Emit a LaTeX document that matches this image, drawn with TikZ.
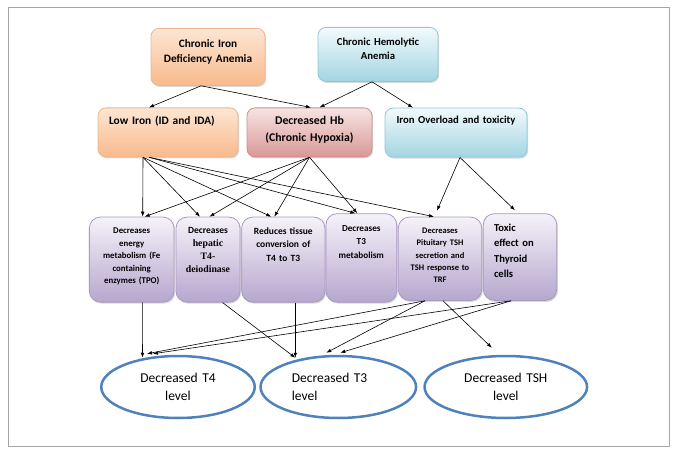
\documentclass[tikz,border=0pt]{standalone}
\usepackage{fontspec}
\setmainfont{Carlito}
\newfontfamily\serifbf{Liberation Serif}
\usetikzlibrary{shapes.geometric, arrows.meta, shadows, calc}

\definecolor{peachtop}{HTML}{FDE6D4}
\definecolor{peachbot}{HTML}{F8BA8C}
\definecolor{peachline}{HTML}{F2B48A}
\definecolor{rosetop}{HTML}{F6E4E3}
\definecolor{rosebot}{HTML}{D99896}
\definecolor{roseline}{HTML}{CF8E8C}
\definecolor{skytop}{HTML}{F2FAFC}
\definecolor{skybot}{HTML}{A3D5E2}
\definecolor{skyline}{HTML}{8CC8D8}
\definecolor{lilactop}{HTML}{F5F2F9}
\definecolor{lilacbot}{HTML}{B6A7CE}
\definecolor{lilacline}{HTML}{A898C2}
\definecolor{levelblue}{HTML}{4F81BD}
\definecolor{framegray}{HTML}{A6A6A6}

\begin{document}
\begin{tikzpicture}[x=1pt, y=-1pt, >={Latex[length=5pt,width=3.6pt]},
  box/.style={draw, rounded corners=8pt, line width=0.8pt, anchor=north,
    inner xsep=4pt, inner ysep=4pt, align=center,
    drop shadow={shadow xshift=1.2pt, shadow yshift=-1.5pt, opacity=0.3}},
  peach/.style={box, draw=peachline, top color=peachtop, bottom color=peachbot},
  rose/.style={box, draw=roseline, top color=rosetop, bottom color=rosebot},
  sky/.style={box, draw=skyline, top color=skytop, bottom color=skybot},
  effect/.style={box, rounded corners=11pt, draw=lilacline, top color=lilactop, bottom color=lilacbot},
  level/.style={ellipse, draw=levelblue, line width=2.5pt, inner sep=0pt,
    minimum height=62pt, align=center, font=\fontsize{13.5}{18.7}\selectfont},
  link/.style={->, line width=0.6pt}]

\useasboundingbox (0,0) rectangle (674,454);
\draw[framegray, line width=1pt] (8,8) rectangle (669,446);

% causes
\node (cida) [peach, text width=106pt, text height=14.7pt, text depth=34.3pt,
  font=\bfseries\fontsize{11.3}{15}\selectfont] at (208,28) {Chronic Iron\\Deficiency Anemia};
\node (cha) [sky, text width=112pt, text height=14pt, text depth=32pt,
  font=\bfseries\fontsize{10.7}{14}\selectfont] at (378,27) {Chronic Hemolytic\\Anemia};

% first effects
\node (lowiron) [peach, inner xsep=11pt, text width=118pt, align=left, text height=13pt, text depth=28pt,
  font=\bfseries\fontsize{11.4}{16}\selectfont] at (168,107.5) {Low Iron (ID and IDA)};
\node (hb) [rose, text width=117pt, text height=12.5pt, text depth=28.5pt,
  font=\bfseries\fontsize{11.8}{16.7}\selectfont] at (309.5,107.5) {Decreased Hb\\(Chronic Hypoxia)};
\node (overload) [sky, text width=134pt, text height=11.6pt, text depth=29.4pt,
  font=\bfseries\fontsize{10.7}{14}\selectfont] at (456,107.7) {Iron Overload and toxicity};

% thyroid effects
\node (energy) [effect, text width=76.7pt, text height=12.6pt, text depth=64.4pt,
  font=\bfseries\fontsize{8.8}{12.5}\selectfont] at (131.7,216.7)
  {Decreases\\energy\\metabolism (Fe\\containing\\enzymes (TPO)};
\node (deiod) [effect, text width=56pt, text height=12.3pt, text depth=64.7pt,
  font=\bfseries\fontsize{9.5}{13.2}\selectfont] at (208,216.7)
  {Decreases\\{\serifbf\fontsize{9.8}{13.2}\selectfont hepatic\\T4-\\deiodinase}};
\node (tissue) [effect, text width=75.3pt, text height=13.6pt, text depth=63.4pt,
  font=\bfseries\fontsize{9.5}{13.3}\selectfont] at (283.3,216.7)
  {Reduces tissue\\conversion of\\T4 to T3};
\node (tthree) [effect, text width=62.7pt, text height=13.4pt, text depth=67pt,
  font=\bfseries\fontsize{9.2}{13.7}\selectfont] at (361.3,213.3)
  {Decreases\\T3\\metabolism};
\node (tsh) [effect, text width=75.4pt, text height=12.6pt, text depth=62.7pt,
  font=\bfseries\fontsize{8.5}{12.3}\selectfont] at (440,216.7)
  {Decreases\\Pituitary TSH\\secretion and\\TSH response to\\TRF};
\node (toxic) [effect, inner xsep=10.7pt, text width=52pt, align=left, text height=14pt, text depth=64.7pt,
  font=\bfseries\fontsize{10.6}{15.3}\selectfont] at (520,213.3)
  {Toxic\\effect on\\Thyroid\\cells};

% outcomes
\node (lowtfour) [level, minimum width=153.5pt, text width=80pt] at (178,387) {Decreased T4\\level};
\node (lowtthree) [level, minimum width=155.5pt, text width=93pt, align=left] at (338.3,387) {Decreased T3\\level};
\node (lowtsh) [level, minimum width=162.5pt, text width=90pt] at (505.8,387) {Decreased TSH\\level};

\draw[link] ($(cida.south)+(-7,0)$) -- ($(lowiron.north)+(-19,0)$);
\draw[link] ($(cida.south)+(-7,0)$) -- ($(hb.north)+(1.5,0)$);
\draw[link] ($(cha.south)+(-6,0)$) -- ($(hb.north)+(10,0)$);
\draw[link] ($(cha.south)+(-6,0)$) -- ($(overload.north)+(-43,0)$);

\draw[link] ($(lowiron.south)+(-25,0)$) -- ($(energy.north)+(11,0)$);
\draw[link] ($(lowiron.south)+(-25,0)$) -- ($(deiod.north)+(-8,0)$);
\draw[link] ($(lowiron.south)+(-25,0)$) -- ($(tissue.north)+(-12,0)$);
\draw[link] ($(lowiron.south)+(-19,0)$) -- ($(tthree.north)+(-6,0)$);
\draw[link] ($(lowiron.south)+(-19,0)$) -- ($(tsh.north)+(-6,0)$);

\draw[link] (hb.south) -- ($(energy.north)+(13,0)$);
\draw[link] (hb.south) -- ($(deiod.north)+(1.5,0)$);
\draw[link] (hb.south) -- ($(tissue.north)+(-9,0)$);
\draw[link] (hb.south) -- ($(tthree.north)+(-4,0)$);

\draw[link] ($(overload.south)+(4,0)$) -- ($(tsh.north)+(-3,-6)$);
\draw[link] ($(overload.south)+(4,0)$) -- ($(toxic.north)+(-5,-3)$);

\draw[link] ($(energy.south)+(11,0)$) -- ($(lowtfour.north)+(-35.5,3)$);
\draw[link] ($(deiod.south)+(14.5,0)$) -- ($(lowtthree.north)+(-43,3)$);
\draw[link] ($(tissue.south)+(12,0)$) -- ($(lowtthree.north)+(-43,3)$);
\draw[link] ($(tsh.south)+(-15,0)$) -- ($(lowtfour.north)+(-31,-1)$);
\draw[link] ($(tsh.south)+(-15,0)$) -- ($(lowtthree.north)+(-12,-2)$);
\draw[link] ($(tsh.south)+(3,0)$) -- ($(lowtsh.north)+(-14,-7)$);
\draw[link] ($(toxic.south)+(-9,0)$) -- ($(lowtfour.north)+(-25,-1)$);
\draw[link] ($(toxic.south)+(-9,0)$) -- ($(lowtthree.north)+(2,-2)$);
\end{tikzpicture}
\end{document}
